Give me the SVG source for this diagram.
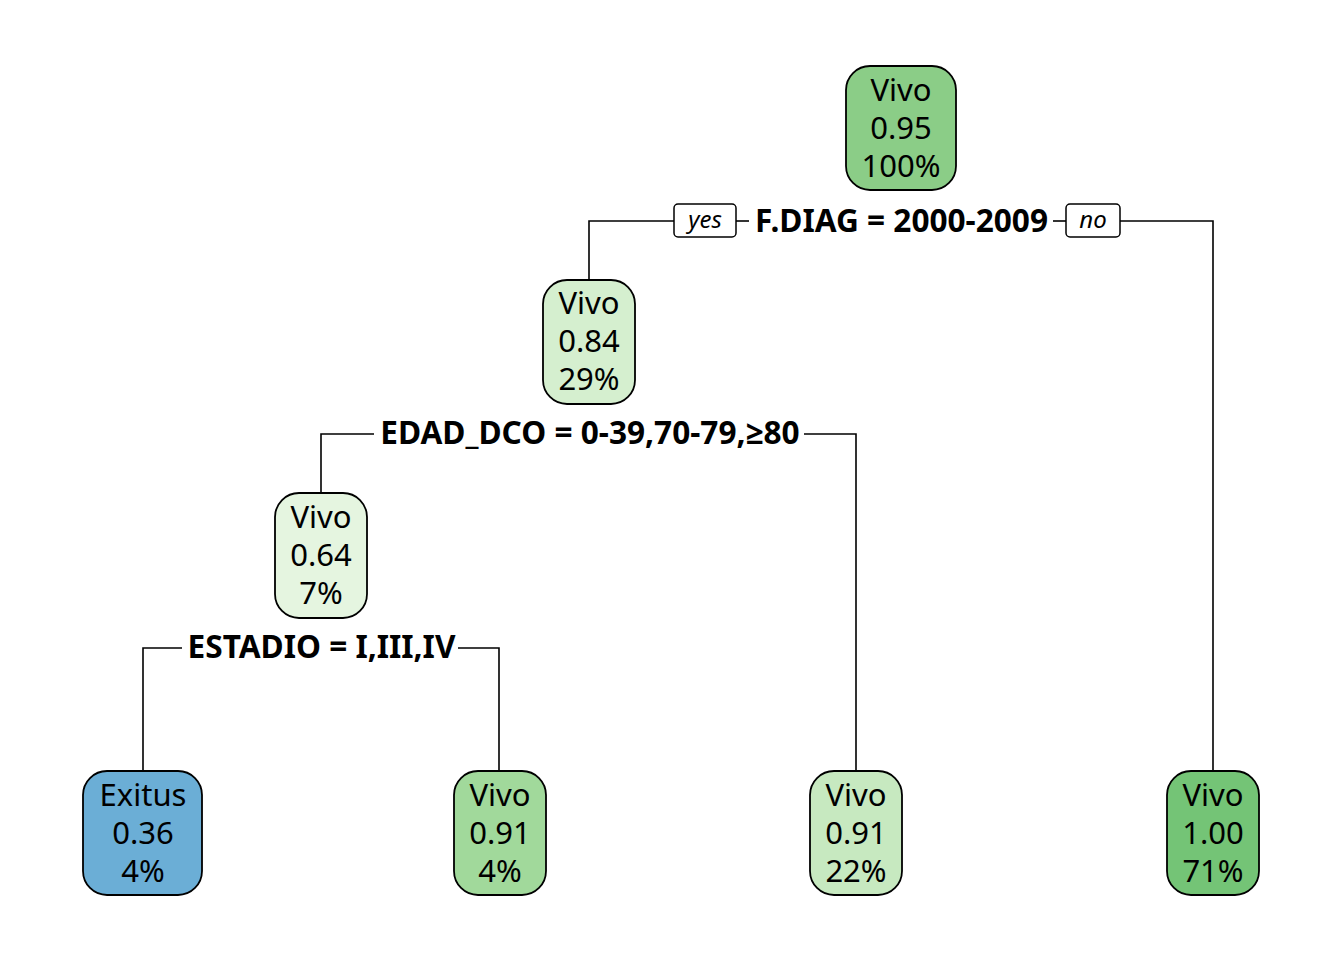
<svg xmlns="http://www.w3.org/2000/svg" width="1344" height="960" viewBox="0 0 1344 960">
<style>
.box{stroke:#000;stroke-width:1.8}
.nt{font-family:"Noto Sans","Open Sans","DejaVu Sans",sans-serif;font-size:31px;text-anchor:middle;fill:#000}
.sp{font-family:"Noto Sans","Open Sans","DejaVu Sans",sans-serif;font-size:31.6px;font-weight:bold;text-anchor:middle;fill:#000}
.yn{font-family:"Noto Sans","Open Sans","DejaVu Sans",sans-serif;font-size:24px;font-style:italic;text-anchor:middle;fill:#000}
.ynb{fill:#fff;stroke:#000;stroke-width:1.5}
.edge{fill:none;stroke:#000;stroke-width:1.6}
</style>
<rect width="1344" height="960" fill="#fff"/>
<g id="connectors">
<path class="edge" d="M589,279 V221 H674"/>
<path class="edge" d="M736,221 H749"/>
<path class="edge" d="M1053,221 H1066"/>
<path class="edge" d="M1120,221 H1213 V770"/>
<path class="edge" d="M321,493 V434 H374"/>
<path class="edge" d="M804,434 H856 V770"/>
<path class="edge" d="M143,770 V648 H182"/>
<path class="edge" d="M458,648 H499 V770"/>
<rect class="ynb" x="674" y="204" width="62" height="33" rx="4"/>
<text class="yn" x="705" y="228">yes</text>
<rect class="ynb" x="1066" y="204" width="54" height="33" rx="4"/>
<text class="yn" x="1093" y="228">no</text>
</g>
<g id="split1"><text class="sp" x="901.5" y="232">F.DIAG = 2000-2009</text></g>
<g id="split2"><text class="sp" x="590" y="444">EDAD_DCO = 0-39,70-79,≥80</text></g>
<g id="split3"><text class="sp" x="321.5" y="658">ESTADIO = I,III,IV</text></g>
<g id="n1">
<rect class="box" x="846" y="66" width="110" height="124" rx="24" fill="#8BCD87"/>
<text class="nt" x="901" y="101">Vivo</text><text class="nt" x="901" y="139">0.95</text><text class="nt" x="901" y="177">100%</text>
</g>
<g id="n2">
<rect class="box" x="543" y="280" width="92" height="124" rx="24" fill="#D5EFCF"/>
<text class="nt" x="589" y="314">Vivo</text><text class="nt" x="589" y="352">0.84</text><text class="nt" x="589" y="390">29%</text>
</g>
<g id="n3">
<rect class="box" x="275" y="493" width="92" height="125" rx="24" fill="#E5F5E0"/>
<text class="nt" x="321" y="528">Vivo</text><text class="nt" x="321" y="566">0.64</text><text class="nt" x="321" y="604">7%</text>
</g>
<g id="n4">
<rect class="box" x="83" y="771" width="119" height="124" rx="24" fill="#6BAED6"/>
<text class="nt" x="143" y="806">Exitus</text><text class="nt" x="143" y="844">0.36</text><text class="nt" x="143" y="882">4%</text>
</g>
<g id="n5">
<rect class="box" x="454" y="771" width="92" height="124" rx="24" fill="#A1D99B"/>
<text class="nt" x="500" y="806">Vivo</text><text class="nt" x="500" y="844">0.91</text><text class="nt" x="500" y="882">4%</text>
</g>
<g id="n6">
<rect class="box" x="810" y="771" width="92" height="124" rx="24" fill="#C7E9C0"/>
<text class="nt" x="856" y="806">Vivo</text><text class="nt" x="856" y="844">0.91</text><text class="nt" x="856" y="882">22%</text>
</g>
<g id="n7">
<rect class="box" x="1167" y="771" width="92" height="124" rx="24" fill="#74C476"/>
<text class="nt" x="1213" y="806">Vivo</text><text class="nt" x="1213" y="844">1.00</text><text class="nt" x="1213" y="882">71%</text>
</g>
</svg>
